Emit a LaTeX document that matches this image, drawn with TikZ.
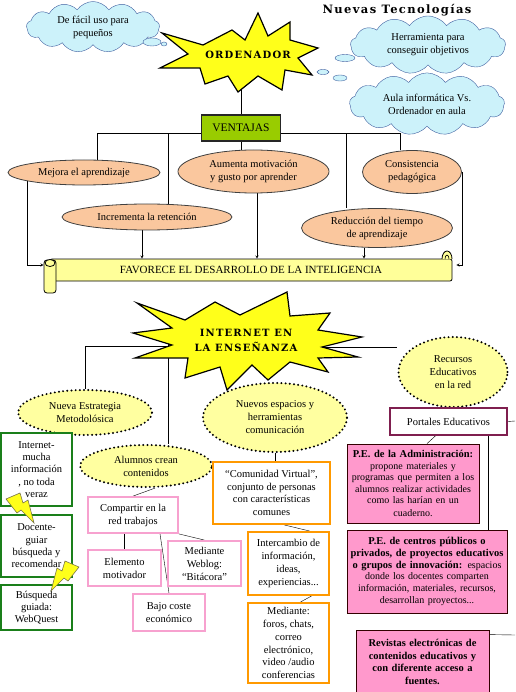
\documentclass[tikz,border=0pt]{standalone}
\usepackage{fontspec}
\setmainfont{Liberation Serif}
\newfontfamily\decofont{DejaVu Serif}[LetterSpace=12]
\usetikzlibrary{shapes.geometric,shapes.symbols,backgrounds,calc}

\definecolor{nubefondo}{HTML}{CCF2FA}
\definecolor{nubeborde}{HTML}{4060A0}
\definecolor{amarillo}{HTML}{FFFF1A}
\definecolor{verde}{HTML}{99CC00}
\definecolor{melon}{HTML}{FAC79E}
\definecolor{crema}{HTML}{FFFF99}
\definecolor{pálido}{HTML}{FFFFA0}
\definecolor{verdeosc}{HTML}{1A7F1A}
\definecolor{rosa}{HTML}{F7A1CF}
\definecolor{naranja}{HTML}{FF9900}
\definecolor{fucsia}{HTML}{FF99CC}
\definecolor{granate}{HTML}{7F1F4F}

\newcommand\pesmall{\fontsize{10}{11.5}\selectfont}

\begin{document}
\begin{tikzpicture}[x=1pt,y=-1pt,>=stealth,font=\fontsize{10.5}{13}\selectfont,
    nube/.style={cloud,cloud puffs=13,cloud puff arc=110,aspect=2.6,draw=nubeborde,fill=nubefondo,align=center,inner sep=0pt},
    burbuja/.style={draw=nubeborde,fill=nubefondo},
    estrella/.style={draw=black,line width=1.2pt,fill=amarillo,line join=miter},
    deco/.style={font=\decofont\bfseries\fontsize{10}{15}\selectfont,align=center},
    ventaja/.style={draw=black!85,line width=1.2pt,fill=verde,minimum width=79pt,minimum height=26pt,font=\fontsize{11.5}{13}\selectfont},
    ovalo/.style={ellipse,draw=black!75,line width=0.8pt,fill=melon,align=center,inner sep=0pt},
    rollo/.style={draw,line width=0.8pt,fill=crema,minimum width=402pt,minimum height=22pt,rounded corners=2pt,inner sep=0pt,font=\fontsize{11}{13}\selectfont},
    punteada/.style={ellipse,draw,line width=2.2pt,dash pattern=on 0pt off 4.2pt,line cap=round,fill=pálido,align=center,inner sep=0pt},
    verdecaja/.style={draw=verdeosc,line width=2pt,fill=white,align=center,inner sep=1pt,font=\fontsize{10.5}{12.3}\selectfont},
    rosacaja/.style={draw=rosa,line width=1.8pt,fill=white,align=center,inner sep=1pt},
    naranjacaja/.style={draw=naranja,line width=2pt,fill=white,align=center,inner sep=1pt,font=\fontsize{10.5}{12.8}\selectfont},
    portal/.style={draw=granate,line width=1.6pt,fill=white,inner sep=1pt},
    pe/.style={draw=black!80!red,line width=0.8pt,fill=fucsia,align=center,inner sep=1pt,font=\fontsize{10.5}{12.5}\selectfont},
    rayo/.style={draw=black!60!yellow,line width=0.6pt,fill=amarillo}]
  \useasboundingbox (0,0) rectangle (515,692);

  % ordenador
  \node[deco,font=\decofont\bfseries\fontsize{11.5}{14}\selectfont] (titulo) at (397,10) {Nuevas Tecnologías};
  \filldraw[estrella] (162,33) -- (203,45) -- (232,30) -- (245,40) -- (258,13) -- (268,36)
    -- (290,22) -- (290,40) -- (318,48) -- (298,58) -- (312,75) -- (285,70) -- (282,90)
    -- (258,76) -- (238,92) -- (228,76) -- (205,84) -- (200,68) -- (160,68) -- (188,54) -- cycle;
  \node[deco] (ordenador) at (248,55) {ORDENADOR};

  \node[nube,minimum width=133pt,minimum height=51pt] (facil) at (93,27) {De fácil uso para\\pequeños};
  \node[nube,minimum width=155pt,minimum height=58pt] (herram) at (428,45) {Herramienta para\\conseguir objetivos};
  \node[nube,minimum width=155pt,minimum height=46pt] (aula) at (427,104) {Aula informática Vs.\\Ordenador en aula};
  \draw[burbuja] (152,42) ellipse [x radius=9,y radius=4];
  \draw[burbuja] (164,44) ellipse [x radius=3,y radius=2];
  \draw[burbuja] (345,58) ellipse [x radius=10,y radius=3.5];
  \draw[burbuja] (323,72) ellipse [x radius=6,y radius=2.5];
  \draw[burbuja] (340,78) ellipse [x radius=7,y radius=3];

  \node[ventaja] (ventajas) at (241,128) {VENTAJAS};
  \node[ovalo,minimum width=152pt,minimum height=25pt] (mejora) at (84,172.5) {Mejora el aprendizaje};
  \node[ovalo,minimum width=151pt,minimum height=43pt] (aumenta) at (253.5,171.5) {Aumenta motivación\\y gusto por aprender};
  \node[ovalo,minimum width=99pt,minimum height=43pt] (consist) at (412,172) {Consistencia\\pedagógica};
  \node[ovalo,minimum width=170pt,minimum height=26pt] (increm) at (147,217) {Incrementa la retención};
  \node[ovalo,minimum width=151pt,minimum height=39pt] (reduc) at (377,228) {Reducción del tiempo\\de aprendizaje};

  \node[rollo] (favorece) at (251,270) {FAVORECE EL DESARROLLO DE LA INTELIGENCIA};
  \draw[fill=crema,line width=0.8pt,rounded corners=3pt] (44,260) rectangle (56,293);
  \draw[fill=crema,line width=0.8pt] (50,263) ellipse [x radius=5,y radius=3.5];
  \draw[fill=crema,line width=0.8pt] (442,259) arc [start angle=180,end angle=360,x radius=5,y radius=8];
  \draw[line width=0.6pt] (445,259) arc [start angle=180,end angle=360,x radius=2,y radius=4];

  % internet en la enseñanza
  \filldraw[estrella] (137,303) -- (185,320) -- (215,302) -- (240,315) -- (287,292) -- (290,316)
    -- (330,313) -- (318,330) -- (362,337) -- (322,347) -- (358,357) -- (318,358) -- (328,372)
    -- (290,362) -- (268,380) -- (252,365) -- (227,390) -- (220,367) -- (185,378) -- (188,358)
    -- (135,358) -- (172,345) -- (133,333) -- (172,328) -- cycle;
  \node[deco] (internet) at (246,340) {INTERNET EN\\LA ENSEÑANZA};

  \node[punteada,minimum width=134pt,minimum height=45pt] (nueva) at (85,412.5) {Nueva Estrategia\\Metodolósica};
  \node[punteada,minimum width=132pt,minimum height=42pt] (alumnos) at (146,466) {Alumnos crean\\contenidos};
  \node[punteada,minimum width=144pt,minimum height=69pt] (nuevos) at (275,417.5) {Nuevos espacios y\\herramientas\\comunicación};
  \node[punteada,minimum width=109pt,minimum height=70pt] (recursos) at (453,372) {Recursos\\Educativos\\en la red};

  \node[verdecaja,minimum width=71pt,minimum height=73pt] (info) at (36.5,469.5) {Internet-\\mucha\\información\\, no toda\\veraz};
  \node[verdecaja,minimum width=71pt,minimum height=62pt] (docente) at (36.5,546) {Docente-\\guiar\\búsqueda y\\recomendar};
  \node[verdecaja,minimum width=71pt,minimum height=45pt] (webquest) at (36.5,607.5) {Búsqueda\\guiada:\\WebQuest};
  \filldraw[rayo] (6,499) -- (20,493) -- (23,503) -- (28,500) -- (34,523) -- (21,510) -- (17,513) -- cycle;
  \filldraw[rayo] (79,567) -- (65,561) -- (62,571) -- (57,568) -- (51,591) -- (64,578) -- (68,581) -- cycle;

  \node[rosacaja,minimum width=90pt,minimum height=36pt] (compartir) at (133,515) {Compartir en la\\red trabajos};
  \node[rosacaja,minimum width=73pt,minimum height=36pt] (elemento) at (124.5,568) {Elemento\\motivador};
  \node[rosacaja,minimum width=73pt,minimum height=45pt] (weblog) at (204.5,563.5) {Mediante\\Weblog:\\“Bitácora”};
  \node[rosacaja,minimum width=72pt,minimum height=37pt] (bajo) at (169,612.5) {Bajo coste\\económico};

  \node[naranjacaja,minimum width=117pt,minimum height=62pt] (comunidad) at (271.5,493) {“Comunidad Virtual”,\\conjunto de personas\\con características\\comunes};
  \node[naranjacaja,minimum width=81pt,minimum height=63pt] (intercambio) at (288.5,563.5) {Intercambio de\\información,\\ideas,\\experiencias...};
  \node[naranjacaja,minimum width=81pt,minimum height=80pt] (foros) at (288.5,643) {Mediante:\\foros, chats,\\correo\\electrónico,\\video /audio\\conferencias};

  \node[portal,minimum width=117pt,minimum height=27pt] (portales) at (448.5,421.5) {Portales Educativos};
  \node[pe,text width=130pt,minimum width=132pt,minimum height=79pt] (admin) at (413,483.5)
    {{\bfseries P.E. de la Administración:}\\ \pesmall propone materiales y\\ programas que permiten a los\\ alumnos realizar actividades\\ como las harían en un\\ cuaderno.};
  \node[pe,text width=158pt,minimum width=160pt,minimum height=83pt] (centros) at (427,571.5)
    {{\bfseries P.E. de centros públicos o\\ privados, de proyectos educativos\\ o grupos de innovación:} \pesmall espacios\\ donde los docentes comparten\\ información, materiales, recursos,\\ desarrollan proyectos...};
  \node[pe,text width=130pt,minimum width=133pt,minimum height=64pt] (revistas) at (422.5,662)
    {\bfseries Revistas electrónicas de\\ contenidos educativos y\\ con diferente acceso a\\ fuentes.};
  \coordinate (borde_a) at (515,421);
  \coordinate (borde_b) at (515,635);

  \begin{scope}[on background layer,line width=0.8pt]
    % ventajas
    \draw (ventajas.north) -- (ventajas.north |- ordenador.south);
    \draw ($(ventajas.west)+(0,5)$) -| ([xshift=13pt]mejora.north);
    \draw ($(ventajas.west)+(0,5)$) -| ([xshift=21pt]increm.north);
    \draw ($(ventajas.east)+(0,5)$) -| ([xshift=-31pt]reduc.north);
    \draw ($(ventajas.east)+(0,5)$) -| ([xshift=-12pt]consist.north);
    \draw (ventajas.south) -- (ventajas.south |- aumenta.north);
    % flechas al rollo
    \draw[->] ([xshift=-57pt]mejora.center) |- ($(favorece.west)+(-6,-5)$);
    \draw[->] ([xshift=-5pt]increm.south) -- ([xshift=-5pt]increm.south |- favorece.north);
    \draw[->] ([xshift=3.5pt]aumenta.south) -- ([xshift=3.5pt]aumenta.south |- favorece.north);
    \draw[->] ([xshift=-13pt]reduc.south) -- ([xshift=-13pt]reduc.south |- favorece.north);
    \draw[->] (consist.east) |- ($(favorece.east)+(4,-5)$);
    % internet
    \draw ($(internet)+(0,6)$) -| (nueva.north);
    \draw ([xshift=-78pt]internet.center) -- ([xshift=-78pt]internet.center |- alumnos.north);
    \draw ($(internet)+(0,7)$) -- ($(recursos.west)+(0,-25)$);
    \draw ($(alumnos.south)+(9,0)$) -- (compartir.north);
    \draw (elemento.north |- compartir.south) -- (elemento.north);
    \draw ($(compartir.south)+(27,0)$) -- (bajo.north);
    \draw (compartir.south east) -- (weblog.north);
    \draw (nuevos.south) -- (nuevos.south |- comunidad.north);
    \draw ($(comunidad.south)+(13,0)$) -- ($(intercambio.north)+(21,0)$);
    \draw ($(intercambio.south)+(23,0)$) -- ($(foros.north)+(12,0)$);
    % portales
    \draw (portales.east) -- (borde_a);
    \draw ($(portales.south)+(-13,0)$) -- ($(admin.north)+(14,0)$);
    \draw ($(portales.south)+(39.5,0)$) -- ($(centros.north)+(61,0)$);
    \draw ($(revistas.north east)+(0,5)$) -- (borde_b);
  \end{scope}
\end{tikzpicture}
\end{document}
